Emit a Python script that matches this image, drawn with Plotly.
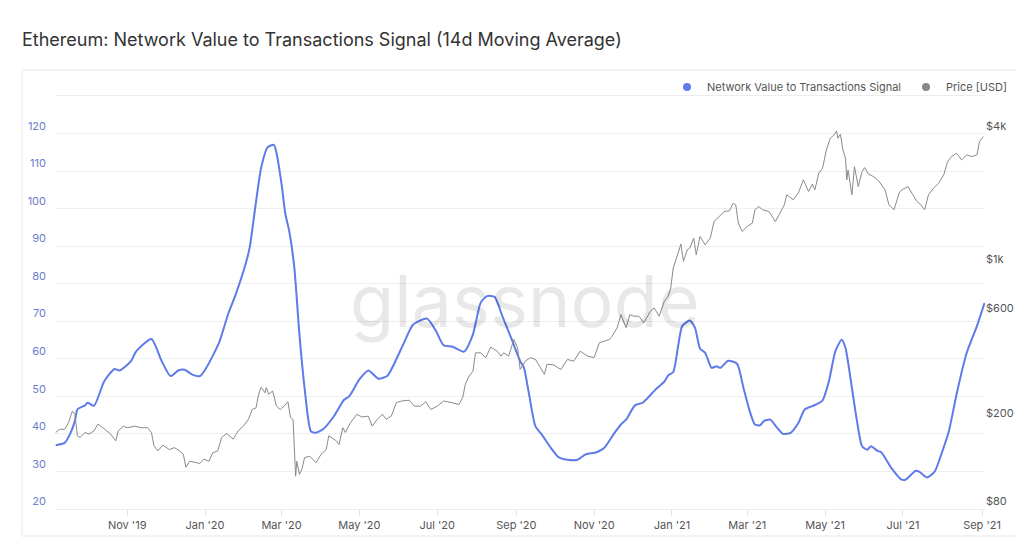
import plotly.graph_objects as go
import numpy as np

# ---------------- data ----------------
nvts_dates = [
    "2019-09-06", "2019-09-13", "2019-09-17", "2019-09-21", "2019-09-23", "2019-09-29", "2019-10-01",
    "2019-10-06", "2019-10-14", "2019-10-22", "2019-10-26", "2019-11-04", "2019-11-08", "2019-11-20",
    "2019-11-28", "2019-12-05", "2019-12-11", "2019-12-16", "2019-12-22", "2019-12-28", "2020-01-02",
    "2020-01-12", "2020-01-19", "2020-01-25", "2020-02-01", "2020-02-05", "2020-02-09", "2020-02-14",
    "2020-02-19", "2020-02-24", "2020-02-26", "2020-03-01", "2020-03-04", "2020-03-07", "2020-03-11",
    "2020-03-15", "2020-03-19", "2020-03-24", "2020-03-28", "2020-04-03", "2020-04-11", "2020-04-19",
    "2020-04-23", "2020-05-01", "2020-05-08", "2020-05-16", "2020-05-23", "2020-05-28", "2020-06-05",
    "2020-06-12", "2020-06-23", "2020-06-30", "2020-07-06", "2020-07-13", "2020-07-22", "2020-07-29",
    "2020-08-04", "2020-08-09", "2020-08-15", "2020-08-21", "2020-08-28", "2020-09-04", "2020-09-07",
    "2020-09-11", "2020-09-16", "2020-09-21", "2020-09-28", "2020-10-04", "2020-10-11", "2020-10-19",
    "2020-10-25", "2020-11-03", "2020-11-09", "2020-11-16", "2020-11-22", "2020-11-26", "2020-12-03",
    "2020-12-09", "2020-12-13", "2020-12-19", "2020-12-26", "2020-12-29", "2021-01-02", "2021-01-06",
    "2021-01-09", "2021-01-15", "2021-01-19", "2021-01-23", "2021-01-27", "2021-02-01", "2021-02-05",
    "2021-02-08", "2021-02-14", "2021-02-21", "2021-02-26", "2021-03-03", "2021-03-07", "2021-03-11",
    "2021-03-14", "2021-03-19", "2021-03-24", "2021-03-29", "2021-04-04", "2021-04-10", "2021-04-15",
    "2021-04-21", "2021-04-25", "2021-04-29", "2021-05-04", "2021-05-09", "2021-05-14", "2021-05-17",
    "2021-05-22", "2021-05-26", "2021-05-30", "2021-06-03", "2021-06-06", "2021-06-11", "2021-06-14",
    "2021-06-22", "2021-06-30", "2021-07-03", "2021-07-11", "2021-07-14", "2021-07-20", "2021-07-26",
    "2021-07-31", "2021-08-06", "2021-08-12", "2021-08-20", "2021-08-28", "2021-09-03",
]
nvts_values = [
    37.0, 37.6, 39.8, 43.4, 46.5, 47.6, 48.3,
    47.5, 54.0, 57.3, 56.9, 59.4, 62.0, 65.3,
    59.4, 55.4, 56.9, 57.1, 55.8, 55.4, 57.6,
    64.3, 71.8, 77.1, 84.3, 89.6, 99.4, 110.9,
    116.3, 117.0, 114.9, 106.5, 98.5, 94.0, 84.3,
    66.5, 52.3, 40.7, 40.3, 41.4, 44.7, 49.1,
    50.0, 54.5, 56.9, 54.7, 55.5, 58.5, 64.3,
    69.1, 70.7, 67.4, 63.6, 63.2, 61.9, 66.5,
    74.9, 76.7, 76.5, 71.4, 65.5, 59.4, 57.6,
    50.5, 42.0, 39.8, 36.3, 33.8, 33.1, 33.1,
    34.5, 35.1, 36.3, 39.8, 42.5, 43.8, 47.6,
    48.3, 49.6, 51.8, 53.9, 55.6, 56.5, 63.8,
    68.7, 70.2, 68.3, 62.7, 61.6, 57.6, 58.0,
    57.6, 59.5, 58.7, 52.3, 46.0, 42.5, 42.3,
    43.4, 43.8, 41.8, 40.0, 40.3, 42.9, 46.5,
    47.4, 48.0, 48.9, 54.0, 62.0, 65.1, 62.9,
    52.3, 43.4, 36.7, 35.8, 36.7, 35.5, 35.1,
    30.9, 27.8, 27.8, 30.2, 29.9, 28.4, 30.0,
    34.5, 40.7, 50.5, 61.6, 68.7, 74.9,
]

price_dates = [
    "2019-09-06", "2019-09-09", "2019-09-13", "2019-09-16", "2019-09-19", "2019-09-21", "2019-09-23",
    "2019-09-25", "2019-09-29", "2019-10-02", "2019-10-06", "2019-10-09", "2019-10-13", "2019-10-16",
    "2019-10-19", "2019-10-23", "2019-10-25", "2019-10-29", "2019-11-01", "2019-11-07", "2019-11-12",
    "2019-11-17", "2019-11-20", "2019-11-22", "2019-11-25", "2019-11-29", "2019-12-04", "2019-12-08",
    "2019-12-12", "2019-12-15", "2019-12-17", "2019-12-20", "2019-12-24", "2019-12-28", "2019-12-31",
    "2020-01-04", "2020-01-07", "2020-01-11", "2020-01-14", "2020-01-18", "2020-01-23", "2020-01-27",
    "2020-01-31", "2020-02-04", "2020-02-07", "2020-02-10", "2020-02-12", "2020-02-14", "2020-02-17",
    "2020-02-18", "2020-02-20", "2020-02-23", "2020-02-26", "2020-02-29", "2020-03-03", "2020-03-06",
    "2020-03-08", "2020-03-10", "2020-03-12", "2020-03-13", "2020-03-15", "2020-03-17", "2020-03-19",
    "2020-03-23", "2020-03-28", "2020-04-01", "2020-04-05", "2020-04-07", "2020-04-13", "2020-04-15",
    "2020-04-18", "2020-04-20", "2020-04-24", "2020-04-29", "2020-05-03", "2020-05-08", "2020-05-11",
    "2020-05-15", "2020-05-19", "2020-05-22", "2020-05-26", "2020-05-30", "2020-06-03", "2020-06-09",
    "2020-06-13", "2020-06-18", "2020-06-22", "2020-06-26", "2020-07-01", "2020-07-06", "2020-07-12",
    "2020-07-18", "2020-07-21", "2020-07-23", "2020-07-26", "2020-07-29", "2020-07-31", "2020-08-04",
    "2020-08-08", "2020-08-12", "2020-08-17", "2020-08-20", "2020-08-22", "2020-08-26", "2020-08-30",
    "2020-09-02", "2020-09-04", "2020-09-08", "2020-09-12", "2020-09-16", "2020-09-20", "2020-09-23",
    "2020-09-25", "2020-09-30", "2020-10-06", "2020-10-11", "2020-10-16", "2020-10-21", "2020-10-27",
    "2020-11-01", "2020-11-05", "2020-11-09", "2020-11-13", "2020-11-15", "2020-11-19", "2020-11-22",
    "2020-11-26", "2020-11-29", "2020-12-02", "2020-12-06", "2020-12-10", "2020-12-15", "2020-12-18",
    "2020-12-22", "2020-12-26", "2020-12-29", "2020-12-31", "2021-01-02", "2021-01-05", "2021-01-08",
    "2021-01-10", "2021-01-13", "2021-01-15", "2021-01-18", "2021-01-20", "2021-01-23", "2021-01-27",
    "2021-01-31", "2021-02-03", "2021-02-07", "2021-02-11", "2021-02-15", "2021-02-18", "2021-02-20",
    "2021-02-22", "2021-02-25", "2021-03-01", "2021-03-05", "2021-03-07", "2021-03-10", "2021-03-13",
    "2021-03-18", "2021-03-23", "2021-03-26", "2021-03-30", "2021-04-01", "2021-04-06", "2021-04-10",
    "2021-04-14", "2021-04-18", "2021-04-21", "2021-04-23", "2021-04-26", "2021-04-29", "2021-05-02",
    "2021-05-05", "2021-05-08", "2021-05-10", "2021-05-11", "2021-05-13", "2021-05-15", "2021-05-17",
    "2021-05-18", "2021-05-19", "2021-05-22", "2021-05-24", "2021-05-27", "2021-05-30", "2021-06-01",
    "2021-06-04", "2021-06-08", "2021-06-12", "2021-06-15", "2021-06-17", "2021-06-20", "2021-06-24",
    "2021-06-28", "2021-06-30", "2021-07-03", "2021-07-05", "2021-07-08", "2021-07-12", "2021-07-15",
    "2021-07-18", "2021-07-21", "2021-07-25", "2021-07-29", "2021-08-02", "2021-08-05", "2021-08-08",
    "2021-08-12", "2021-08-16", "2021-08-20", "2021-08-24", "2021-08-28", "2021-08-30", "2021-09-02",
]
price_values = [
    177, 183, 183, 196, 221, 214, 171,
    168, 177, 174, 180, 193, 186, 180,
    174, 162, 180, 189, 186, 189, 186,
    186, 177, 154, 146, 155, 148, 151,
    146, 141, 123, 131, 129, 128, 134,
    131, 143, 146, 168, 175, 165, 180,
    189, 203, 225, 229, 264, 284, 268,
    283, 264, 273, 233, 225, 233, 244,
    207, 203, 112, 131, 114, 121, 136,
    138, 129, 141, 148, 171, 162, 156,
    186, 177, 196, 214, 208, 210, 189,
    203, 214, 203, 210, 242, 246, 248,
    233, 233, 244, 225, 233, 246, 242,
    237, 255, 293, 319, 336, 407, 407,
    387, 432, 414, 393, 407, 393, 468,
    429, 342, 373, 387, 380, 348, 325,
    361, 359, 342, 380, 373, 414, 393,
    387, 452, 460, 468, 484, 529, 607,
    529, 607, 597, 597, 557, 628, 651,
    597, 698, 735, 802, 988, 1116, 1270,
    1059, 1197, 1218, 1352, 1136, 1375, 1260,
    1352, 1607, 1694, 1784, 1797, 1948, 1913,
    1581, 1448, 1526, 1581, 1816, 1880, 1816,
    1784, 1607, 1724, 1913, 2124, 2016, 2162,
    2484, 2199, 2375, 2238, 2663, 2806, 3396,
    3837, 3972, 4141, 3837, 4000, 3396, 3114,
    2484, 2756, 2124, 2852, 2316, 2708, 2823,
    2636, 2570, 2458, 2316, 2238, 1913, 1816,
    2162, 2238, 2278, 2316, 2162, 1981, 1913,
    1816, 2124, 2278, 2399, 2617, 3006, 3167,
    3281, 3060, 3224, 3167, 3224, 3704, 3902,
]

left_ticks = [20, 30, 40, 50, 60, 70, 80, 90, 100, 110, 120]
price_ticks = [80, 200, 600, 1000, 4000]
price_tick_text = ["$80", "$200", "$600", "$1k", "$4k"]

TITLE = "Ethereum: Network Value to Transactions Signal (14d Moving Average)"
BLUE = "#5f7ae9"
GRAY = "#8a8a8a"
FONT = "Inter, Roboto, 'Noto Sans', sans-serif"

# The page body adds an 8px offset, so the figure is laid out 8px smaller.
W, H = 1016, 542
L, R, T, B = 47, 39, 88, 41
PW, PH = W - L - R, H - T - B

fig = go.Figure()

# price (behind)
fig.add_trace(go.Scatter(
    x=price_dates, y=price_values, yaxis="y2", mode="lines",
    line=dict(color=GRAY, width=1), name="Price [USD]", showlegend=False,
    hoverinfo="skip"))

# NVTS
fig.add_trace(go.Scatter(
    x=nvts_dates, y=nvts_values, mode="lines",
    line=dict(color=BLUE, width=2, shape="spline", smoothing=0.6),
    name="Network Value to Transactions Signal", showlegend=False))

# legend entries with dot symbols
fig.add_trace(go.Scatter(x=[None], y=[None], mode="markers",
                         marker=dict(color=BLUE, size=8),
                         name="Network Value to Transactions Signal"))
fig.add_trace(go.Scatter(x=[None], y=[None], mode="markers", yaxis="y2",
                         marker=dict(color="#888888", size=8),
                         name="Price [USD]"))

fig.update_layout(
    width=W, height=H,
    margin=dict(l=L, r=R, t=T, b=B, autoexpand=False),
    paper_bgcolor="white", plot_bgcolor="white",
    font=dict(family=FONT, size=11, color="#555555"),
    title=dict(text=TITLE, x=14 / W, xanchor="left", xref="container",
               y=1 - 32 / H, yanchor="middle", yref="container",
               font=dict(family=FONT, size=18, color="#333333")),
    showlegend=True,
    legend=dict(orientation="h", xref="container", yref="container",
                x=1004 / W, xanchor="right", y=1 - 79 / H, yanchor="middle",
                font=dict(family=FONT, size=11, color="#555555"),
                itemwidth=30, bgcolor="rgba(0,0,0,0)"),
    xaxis=dict(
        type="date",
        range=["2019-09-05 10:00", "2021-09-03 08:00"],
        tick0="2019-11-01", dtick="M2", tickformat="%b '%y",
        showgrid=False, zeroline=False,
        showline=True, mirror=True, linecolor="#ececec", linewidth=1,
        ticks="outside", ticklen=6, tickcolor="#e3e3e3",
        tickfont=dict(size=11, color="#555555"),
    ),
    yaxis=dict(
        range=[20, 130], tickvals=left_ticks,
        showgrid=True, gridcolor="#efefef", gridwidth=1,
        zeroline=False, showline=False,
        ticklabelposition="outside top", ticklabelstandoff=8,
        tickfont=dict(size=11, color="#6c7ccc"),
    ),
    yaxis2=dict(
        type="log", overlaying="y", side="right",
        range=[np.log10(79.5), 3.776],
        tickvals=price_ticks, ticktext=price_tick_text,
        showgrid=False, zeroline=False, showline=False,
        ticklabelposition="outside top",
        tickfont=dict(size=11, color="#555555"),
    ),
    hovermode=False,
)

# watermark
fig.add_annotation(text="glassnode", xref="paper", yref="paper", x=0.505, y=0.505,
                   showarrow=False,
                   font=dict(family="Inter, 'Open Sans', sans-serif", size=72,
                             color="rgba(0,0,0,0.09)"))

# card border
fig.add_shape(type="rect", xref="paper", yref="paper",
              x0=(14 - L) / PW, x1=(1040 - L) / PW,
              y0=(PH + T - 528) / PH, y1=(PH + T - 62) / PH,
              line=dict(color="#e6e6e6", width=1), fillcolor="rgba(0,0,0,0)",
              layer="below")

fig.write_html("out.html")
